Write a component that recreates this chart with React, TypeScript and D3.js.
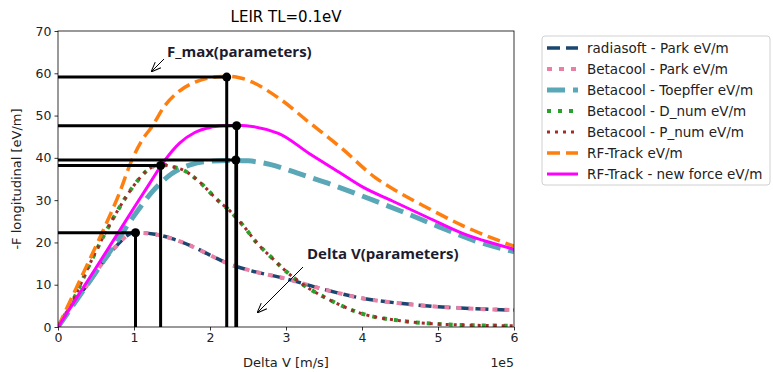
import { useEffect, useRef } from 'react';
import * as d3 from 'd3';

// velocities in m/s, forces in eV/m
const parkV = [0, 0.2e5, 0.4e5, 0.55e5, 0.75e5, 1.0e5, 1.25e5, 1.5e5, 1.75e5, 2.0e5, 2.25e5, 2.5e5, 3.0e5, 3.5e5, 4.0e5, 4.5e5, 5.0e5, 5.5e5, 6.0e5];
const radiasoftPark = [0, 5.8, 10.3, 14.3, 18.8, 22.3, 22.0, 20.9, 19.2, 17.0, 14.9, 13.5, 11.4, 8.9, 6.8, 5.6, 4.8, 4.3, 4.0];
const betacoolPark = [0, 5.8, 10.3, 14.3, 18.8, 22.3, 22.0, 20.9, 19.2, 17.0, 14.9, 13.5, 11.4, 8.9, 6.8, 5.6, 4.8, 4.3, 4.0];

const toepfferV = [0, 0.25e5, 0.5e5, 0.75e5, 1.0e5, 1.25e5, 1.5e5, 1.75e5, 2.0e5, 2.34e5, 2.5e5, 2.8e5, 3.15e5, 3.55e5, 4.0e5, 4.5e5, 5.0e5, 5.5e5, 6.0e5];
const betacoolToepffer = [0, 6.5, 13, 19.6, 26.3, 32.2, 36.3, 38.4, 39.2, 39.4, 39.3, 38.4, 36.4, 34.0, 31.0, 27.5, 23.8, 20.3, 17.8];

const numV = [0, 0.22e5, 0.4e5, 0.62e5, 0.8e5, 1.0e5, 1.17e5, 1.35e5, 1.48e5, 1.66e5, 1.88e5, 2.1e5, 2.27e5, 2.45e5, 2.62e5, 2.8e5, 2.98e5, 3.2e5, 3.5e5, 4.03e5, 4.5e5, 5.0e5, 5.5e5, 6.0e5];
const betacoolDnum = [0, 7.1, 14.2, 22.2, 28.0, 33.5, 37.0, 38.4, 38.0, 37.0, 34.0, 30.0, 27.3, 23.7, 19.8, 16.6, 13.5, 10.3, 7.1, 3.0, 1.5, 0.7, 0.4, 0.3];
const betacoolPnum = [0, 7.1, 14.2, 22.2, 28.0, 33.5, 37.0, 38.4, 38.0, 37.0, 34.0, 30.0, 27.3, 23.7, 19.8, 16.6, 13.5, 10.3, 7.1, 3.0, 1.5, 0.7, 0.4, 0.3];

const rfV = [0, 0.3e5, 0.58e5, 0.8e5, 0.97e5, 1.1e5, 1.24e5, 1.4e5, 1.57e5, 1.83e5, 2.1e5, 2.22e5, 2.4e5, 2.93e5, 3.29e5, 3.73e5, 4.17e5, 4.43e5, 4.87e5, 5.31e5, 6.0e5];
const rfTrack = [0, 11.5, 22.3, 31.3, 39.4, 44.0, 47.5, 52.2, 55.4, 58.1, 59.2, 59.3, 58.9, 53.8, 48.6, 42.3, 35.4, 32.4, 28.1, 24.1, 19.1];

const newV = [0, 0.5e5, 0.8e5, 1.0e5, 1.2e5, 1.4e5, 1.6e5, 1.8e5, 2.0e5, 2.2e5, 2.35e5, 2.9e5, 3.3e5, 3.7e5, 4.0e5, 4.4e5, 4.9e5, 5.3e5, 6.0e5];
const rfTrackNew = [0, 14, 22.5, 28.2, 33.8, 39.3, 43.5, 46.0, 47.2, 47.6, 47.7, 45.8, 41.1, 36.6, 33.2, 29.8, 25.6, 22.3, 18.4];

// F_max points (parameters)
const fmaxV = [1.02e5, 1.35e5, 2.34e5, 2.22e5, 2.35e5];
const fmaxF = [22.3, 38.2, 39.5, 59.1, 47.6];

const xTicks = [0, 1e5, 2e5, 3e5, 4e5, 5e5, 6e5];
const yTicks = [0, 10, 20, 30, 40, 50, 60, 70];

const series = [
  { label: 'radiasoft - Park eV/m', v: parkV, f: radiasoftPark, color: '#1b4670', width: 3.5, dash: '13,6' },
  { label: 'Betacool - Park eV/m', v: parkV, f: betacoolPark, color: '#ea7fa6', width: 4, dash: '5,7' },
  { label: 'Betacool - Toepffer eV/m', v: toepfferV, f: betacoolToepffer, color: '#5aa7b8', width: 5, dash: '18,8' },
  { label: 'Betacool - D_num eV/m', v: numV, f: betacoolDnum, color: '#2ca02c', width: 4, dash: '4,7' },
  { label: 'Betacool - P_num eV/m', v: numV, f: betacoolPnum, color: '#a52a2a', width: 3, dash: '3,5' },
  { label: 'RF-Track eV/m', v: rfV, f: rfTrack, color: '#ff7f0e', width: 3.5, dash: '13,6' },
  { label: 'RF-Track - new force eV/m', v: newV, f: rfTrackNew, color: '#ff00ff', width: 3, dash: '' }
];

const FONT = '"DejaVu Sans", sans-serif';

export default function App() {
  const ref = useRef<SVGSVGElement | null>(null);

  useEffect(() => {
    if (!ref.current) return;
    const svg = d3.select(ref.current);
    svg.selectAll('*').remove();

    const margin = { left: 58, top: 31, right: 259, bottom: 45 };
    const width = 773;
    const height = 372;
    const innerW = width - margin.left - margin.right;
    const innerH = height - margin.top - margin.bottom;

    const x = d3.scaleLinear().domain([0, 6e5]).range([0, innerW]);
    const y = d3.scaleLinear().domain([0, 70]).range([innerH, 0]);

    const defs = svg.append('defs');
    defs.append('clipPath').attr('id', 'plot-clip')
      .append('rect').attr('width', innerW).attr('height', innerH);
    defs.append('marker')
      .attr('id', 'arrow-open')
      .attr('viewBox', '0 0 10 10')
      .attr('refX', 10).attr('refY', 5)
      .attr('markerWidth', 10).attr('markerHeight', 10)
      .attr('markerUnits', 'userSpaceOnUse')
      .attr('orient', 'auto')
      .append('path')
      .attr('d', 'M0,1 L10,5 L0,9')
      .attr('fill', 'none').attr('stroke', '#000').attr('stroke-width', 1);

    const g = svg.append('g').attr('transform', `translate(${margin.left},${margin.top})`);

    // title
    svg.append('text')
      .attr('x', margin.left + innerW / 2).attr('y', 22)
      .attr('text-anchor', 'middle')
      .style('font-family', FONT).style('font-size', '15px')
      .text('LEIR TL=0.1eV');

    // curves
    const plot = g.append('g').attr('clip-path', 'url(#plot-clip)');
    series.forEach((s) => {
      const pts = s.v.map((v, i) => [v, s.f[i]] as [number, number]);
      const line = d3.line<[number, number]>()
        .x((d) => x(d[0]))
        .y((d) => y(d[1]))
        .curve(d3.curveMonotoneX);
      plot.append('path')
        .attr('d', line(pts) || '')
        .attr('fill', 'none')
        .attr('stroke', s.color)
        .attr('stroke-width', s.width)
        .attr('stroke-dasharray', s.dash || null);
    });

    // F_max markers
    fmaxV.forEach((v, i) => {
      const px = x(v);
      const py = y(fmaxF[i]);
      plot.append('line')
        .attr('x1', x(0)).attr('x2', px).attr('y1', py).attr('y2', py)
        .attr('stroke', '#000').attr('stroke-width', 3);
      plot.append('line')
        .attr('x1', px).attr('x2', px).attr('y1', py).attr('y2', y(0))
        .attr('stroke', '#000').attr('stroke-width', 3);
    });
    fmaxV.forEach((v, i) => {
      plot.append('circle')
        .attr('cx', x(v)).attr('cy', y(fmaxF[i])).attr('r', 4.5)
        .attr('fill', '#000');
    });

    // axes
    const xAxis = d3.axisBottom(x).tickValues(xTicks)
      .tickFormat((d) => String(Number(d) / 1e5)).tickSizeOuter(0).tickSize(3.5).tickPadding(3);
    const yAxis = d3.axisLeft(y).tickValues(yTicks).tickSizeOuter(0).tickSize(3.5).tickPadding(3);

    const xg = g.append('g').attr('transform', `translate(0,${innerH})`).call(xAxis);
    const yg = g.append('g').call(yAxis);
    [xg, yg].forEach((ax) => {
      ax.select('.domain').remove();
      ax.selectAll('text').style('font-family', FONT).style('font-size', '12.5px').attr('fill', '#222');
      ax.selectAll('line').attr('stroke', '#000').attr('stroke-width', 0.8);
    });

    g.append('rect')
      .attr('width', innerW).attr('height', innerH)
      .attr('fill', 'none').attr('stroke', '#000').attr('stroke-width', 0.8);

    // axis labels
    svg.append('text')
      .attr('x', margin.left + innerW / 2).attr('y', 367)
      .attr('text-anchor', 'middle')
      .style('font-family', FONT).style('font-size', '13px').attr('fill', '#222')
      .text('Delta V [m/s]');
    svg.append('text')
      .attr('x', margin.left + innerW).attr('y', 367)
      .attr('text-anchor', 'end')
      .style('font-family', FONT).style('font-size', '12.5px').attr('fill', '#222')
      .text('1e5');
    svg.append('text')
      .attr('transform', `translate(21,${margin.top + innerH / 2}) rotate(-90)`)
      .attr('text-anchor', 'middle')
      .style('font-family', FONT).style('font-size', '13px').attr('fill', '#222')
      .text('-F longitudinal [eV/m]');

    // annotations
    const annoFont = '"Open Sans", "Liberation Sans", sans-serif';
    svg.append('text')
      .attr('x', 167).attr('y', 57)
      .style('font-family', annoFont).style('font-size', '15px').style('font-weight', 'bold')
      .attr('fill', '#1c1c30')
      .text('F_max(parameters)');
    svg.append('line')
      .attr('x1', 164).attr('y1', 59).attr('x2', 151).attr('y2', 72)
      .attr('stroke', '#000').attr('stroke-width', 1).attr('marker-end', 'url(#arrow-open)');
    svg.append('text')
      .attr('x', 307).attr('y', 259)
      .style('font-family', annoFont).style('font-size', '15px').style('font-weight', 'bold')
      .attr('fill', '#1c1c30')
      .text('Delta V(parameters)');
    svg.append('line')
      .attr('x1', 303).attr('y1', 267).attr('x2', 257).attr('y2', 313)
      .attr('stroke', '#000').attr('stroke-width', 1).attr('marker-end', 'url(#arrow-open)');

    // legend
    const legend = svg.append('g').attr('transform', 'translate(542,36)');
    legend.append('rect')
      .attr('width', 228).attr('height', 149).attr('rx', 3)
      .attr('fill', '#fff').attr('stroke', '#d0d0d0').attr('stroke-width', 1);
    series.forEach((s, i) => {
      const ly = 12 + i * 21;
      legend.append('line')
        .attr('x1', 5).attr('x2', 36).attr('y1', ly).attr('y2', ly)
        .attr('stroke', s.color).attr('stroke-width', s.width)
        .attr('stroke-dasharray', s.dash || null);
      legend.append('text')
        .attr('x', 45).attr('y', ly).attr('dy', '0.35em')
        .style('font-family', FONT).style('font-size', '13.5px').attr('fill', '#222')
        .text(s.label);
    });
  }, []);

  return (
    <svg
      ref={ref}
      width={773}
      height={372}
      style={{ position: 'absolute', left: 0, top: 0, background: '#fff' }}
    />
  );
}
